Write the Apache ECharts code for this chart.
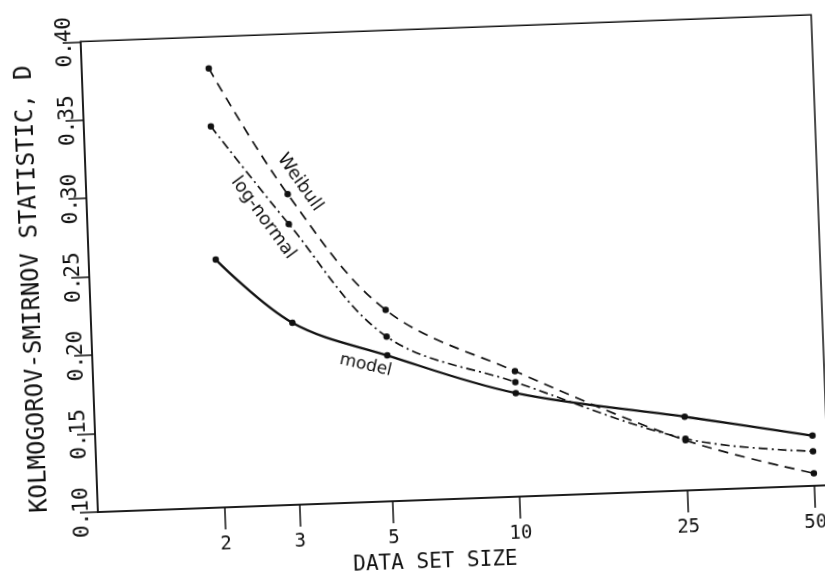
<!DOCTYPE html>
<html><head><meta charset="utf-8">
<script src="https://cdn.jsdelivr.net/npm/echarts@6/dist/echarts.min.js"></script>
<style>
html,body{margin:0;padding:0;background:#fff;overflow:hidden}
#chart{width:825px;height:580px;transform-origin:450px 290px;transform:rotate(-2.1deg);}
</style></head><body>
<div id="chart"></div>
<script>
// Data
const dataSetSizes = [2, 3, 5, 10, 25, 50];
const weibull   = [0.380, 0.298, 0.222, 0.180, 0.132, 0.108];
const logNormal = [0.343, 0.279, 0.205, 0.173, 0.133, 0.122];
const model     = [0.258, 0.216, 0.193, 0.166, 0.147, 0.132];
const xTickValues = [2, 3, 5, 10, 25, 50];
const yTickValues = [0.10, 0.15, 0.20, 0.25, 0.30, 0.35, 0.40];

const INK = '#111';
const MONO = "'DejaVu Sans Mono', 'Liberation Mono', monospace";
const SANS = "'DejaVu Sans', 'Noto Sans', sans-serif";

function pairs(ys) { return dataSetSizes.map((x, i) => [x, ys[i]]); }

function lineSeries(name, ys, dash, width) {
  return {
    name: name, type: 'line', data: pairs(ys), smooth: 0.35,
    symbol: 'circle', symbolSize: 6.5,
    itemStyle: { color: INK },
    lineStyle: { color: INK, width: width, type: dash },
    emphasis: { disabled: true }
  };
}

const chart = echarts.init(document.getElementById('chart'), null, { renderer: 'canvas' });
chart.setOption({
  animation: false,
  backgroundColor: '#fff',
  grid: { left: 90, top: 26, right: 4, bottom: 81, show: true, borderColor: INK, borderWidth: 1.5, backgroundColor: 'transparent' },
  xAxis: {
    type: 'log', logBase: 10, min: 1, max: 54,
    axisLine: { show: true, lineStyle: { color: INK, width: 1.5 } },
    axisTick: { show: true, inside: false, length: 22, customValues: xTickValues, lineStyle: { color: INK, width: 1.5 } },
    axisLabel: { customValues: xTickValues, margin: 28, fontFamily: MONO, fontSize: 19, color: INK },
    splitLine: { show: false }, minorTick: { show: false }, minorSplitLine: { show: false },
    name: 'DATA SET SIZE', nameLocation: 'middle', nameGap: 51,
    nameTextStyle: { fontFamily: MONO, fontSize: 21, color: INK, padding: [0, 60, 0, 0] }
  },
  yAxis: {
    type: 'value', min: 0.10, max: 0.40, interval: 0.05,
    axisLine: { show: true, lineStyle: { color: INK, width: 1.5 } },
    axisTick: { show: true, inside: false, length: 18, customValues: yTickValues, lineStyle: { color: INK, width: 1.5 } },
    axisLabel: { customValues: yTickValues, rotate: 90, margin: 5, fontFamily: MONO, fontSize: 21, color: INK,
                 formatter: v => Number(v).toFixed(2) },
    splitLine: { show: false },
    name: 'KOLMOGOROV-SMIRNOV STATISTIC, D', nameLocation: 'middle', nameGap: 45, nameRotate: 90,
    nameTextStyle: { fontFamily: MONO, fontSize: 24, color: INK, padding: [0, 20, 0, 0] }
  },
  series: [
    lineSeries('Weibull', weibull, [10, 7], 1.7),
    lineSeries('log-normal', logNormal, [9, 4, 2, 4], 1.7),
    lineSeries('model', model, 'solid', 2.3)
  ],
  graphic: [
    { type: 'text', x: 304, y: 177, rotation: -57 * Math.PI / 180,
      style: { text: 'Weibull', font: '18px ' + SANS, fill: INK, align: 'center', verticalAlign: 'middle' } },
    { type: 'text', x: 266, y: 211, rotation: -56 * Math.PI / 180,
      style: { text: 'log-normal', font: '18px ' + SANS, fill: INK, align: 'center', verticalAlign: 'middle' } },
    { type: 'text', x: 363, y: 362, rotation: -15 * Math.PI / 180,
      style: { text: 'model', font: '17px ' + SANS, fill: INK, align: 'center', verticalAlign: 'middle' } }
  ]
});
</script>
</body></html>
